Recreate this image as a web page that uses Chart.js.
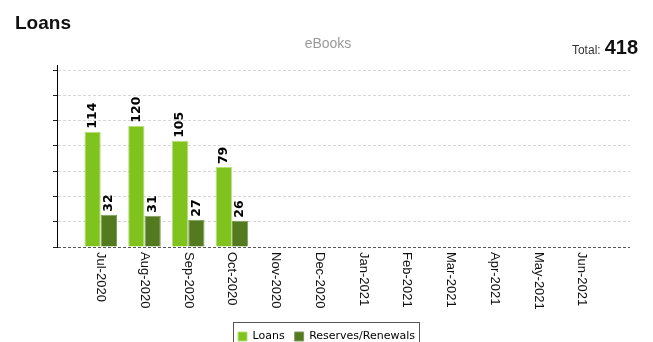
<!DOCTYPE html>
<html>
<head>
<meta charset="utf-8">
<script src="https://cdn.jsdelivr.net/npm/chart.js@4.4.1/dist/chart.umd.min.js"></script>
<style>
  html, body { margin: 0; padding: 0; background: #fff; overflow: hidden; }
  #wrap { width: 653px; height: 352px; position: relative; }
</style>
</head>
<body>
<div id="wrap"><canvas id="loansChart"></canvas></div>
<script>
const months = ["Jul-2020", "Aug-2020", "Sep-2020", "Oct-2020", "Nov-2020", "Dec-2020",
                "Jan-2021", "Feb-2021", "Mar-2021", "Apr-2021", "May-2021", "Jun-2021"];
const loans = [114, 120, 105, 79, null, null, null, null, null, null, null, null];
const reserves = [32, 31, 27, 26, null, null, null, null, null, null, null, null];
const yTicks = [0, 25, 50, 75, 100, 125, 150, 175];

const chartTitle = "Loans";
const chartSubtitle = "eBooks";
const totalLoans = loans.reduce((s, v) => s + (v || 0), 0);

// bars sit on a linear x axis so the axis can run one slot past each end
const toPoints = arr => arr.map((v, i) => ({ x: i, y: v }));

const decor = {
  id: "decor",
  afterDraw(chart) {
    const ctx = chart.ctx;
    const xs = chart.scales.x;
    ctx.save();

    // heading
    ctx.fillStyle = "#111";
    ctx.textAlign = "left";
    ctx.textBaseline = "alphabetic";
    ctx.font = 'bold 19px "Liberation Sans", Arial, sans-serif';
    ctx.fillText(chartTitle, 15, 29);

    ctx.fillStyle = "#9a9a9a";
    ctx.textAlign = "center";
    ctx.font = '14px "Liberation Sans", Arial, sans-serif';
    ctx.fillText(chartSubtitle, 328, 48);

    // total in the top right corner
    ctx.textAlign = "right";
    ctx.fillStyle = "#111";
    ctx.font = 'bold 20px "Liberation Sans", Arial, sans-serif';
    ctx.fillText(String(totalLoans), 638, 54);
    const w = ctx.measureText(String(totalLoans)).width;
    ctx.fillStyle = "#333";
    ctx.font = '12px "Liberation Sans", Arial, sans-serif';
    ctx.fillText("Total:", 638 - w - 4, 54);

    // month labels, turned clockwise
    ctx.fillStyle = "#111";
    ctx.font = '13px "Liberation Sans", Arial, sans-serif';
    ctx.textAlign = "left";
    ctx.textBaseline = "middle";
    months.forEach((m, i) => {
      const px = xs.getPixelForValue(i);
      ctx.save();
      ctx.translate(px, chart.chartArea.bottom + 5);
      ctx.rotate(Math.PI / 2);
      ctx.fillText(m, 0, 0);
      ctx.restore();
    });

    // value labels above the bars
    ctx.font = 'bold 12.5px "DejaVu Sans", sans-serif';
    ctx.fillStyle = "#000";
    chart.data.datasets.forEach((ds, di) => {
      chart.getDatasetMeta(di).data.forEach((bar, i) => {
        const v = ds.data[i].y;
        if (v == null) return;
        ctx.save();
        ctx.translate(bar.x, bar.y - 3);
        ctx.rotate(-Math.PI / 2);
        ctx.textAlign = "left";
        ctx.textBaseline = "middle";
        ctx.fillText(String(v), 0, 0);
        ctx.restore();
      });
    });

    // frame round the legend
    const boxes = chart.legend.legendHitBoxes;
    if (boxes && boxes.length) {
      const left = Math.min(...boxes.map(b => b.left)) - 5;
      const right = Math.max(...boxes.map(b => b.left + b.width)) + 4;
      const top = boxes[0].top - 9;
      ctx.strokeStyle = "#555";
      ctx.lineWidth = 1;
      ctx.strokeRect(Math.round(left) + 0.5, Math.round(top) + 0.5, Math.round(right - left), 26);
    }
    ctx.restore();
  }
};

new Chart(document.getElementById("loansChart"), {
  type: "bar",
  data: {
    datasets: [
      {
        label: "Loans",
        data: toPoints(loans),
        backgroundColor: "#7fc31c",
        borderColor: "#b5e07a",
        borderWidth: 1
      },
      {
        label: "Reserves/Renewals",
        data: toPoints(reserves),
        backgroundColor: "#537a1f",
        borderColor: "#7f9a5c",
        borderWidth: 1
      }
    ]
  },
  options: {
    responsive: true,
    maintainAspectRatio: false,
    animation: false,
    categoryPercentage: 0.745,
    barPercentage: 1,
    layout: { padding: { top: 65, left: 23, right: 23, bottom: 0 } },
    plugins: {
      tooltip: { enabled: false },
      legend: {
        position: "bottom",
        labels: {
          boxWidth: 9,
          boxHeight: 9,
          padding: 10,
          color: "#000",
          font: { family: '"DejaVu Sans", sans-serif', size: 11 }
        }
      }
    },
    scales: {
      x: {
        type: "linear",
        min: -1,
        max: 12.1,
        offset: false,
        grid: { display: false },
        border: { display: false },
        ticks: { display: false },
        afterFit: s => { s.height = 74; }
      },
      y: {
        min: 0,
        max: 180,
        ticks: { display: false, stepSize: 25 },
        afterBuildTicks: s => { s.ticks = yTicks.map(v => ({ value: v })); },
        grid: {
          color: c => (c.tick && c.tick.value === 0) ? "#555" : "#d6d6d6",
          tickColor: "#222",
          tickLength: 4
        },
        border: { display: true, color: "#000", width: 1, dash: [3, 2] },
        afterFit: s => { s.width = 34; }
      }
    }
  },
  plugins: [decor]
});
</script>
</body>
</html>
